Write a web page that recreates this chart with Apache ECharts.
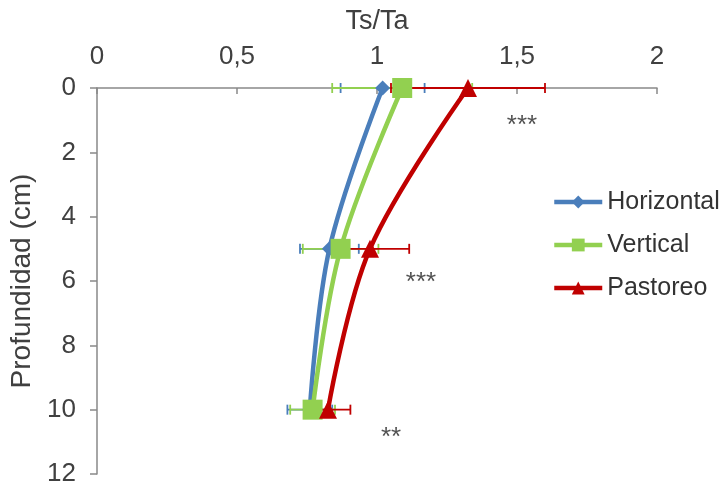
<!DOCTYPE html>
<html><head><meta charset="utf-8">
<script src="https://cdn.jsdelivr.net/npm/echarts@6/dist/echarts.min.js"></script>
<style>html,body{margin:0;padding:0;background:#fff}#c{width:727px;height:487px}</style>
</head><body><div id="c"></div>
<script>
var depths = [0, 5, 10];
var horizontal = [1.02, 0.83, 0.76];
var vertical = [1.09, 0.87, 0.77];
var pastoreo = [1.325, 0.975, 0.825];
var errHorizontal = [0.15, 0.105, 0.08];
var errVertical = [0.25, 0.135, 0.08];
var errPastoreo = [0.275, 0.14, 0.08];
var xTicks = ['0', '0,5', '1', '1,5', '2'];
var sigLabels = ['***', '***', '**'];
var sigPos = [[1.518, 1.18], [1.157, 6.05], [1.05, 10.88]];

var colors = {Horizontal: '#4a7ebb', Vertical: '#92d050', Pastoreo: '#c00000'};
function pts(vals) { return vals.map(function (v, i) { return [v, depths[i]]; }); }
function errData(vals, errs) { return vals.map(function (v, i) { return [v - errs[i], v + errs[i], depths[i]]; }); }
function errSeries(name, vals, errs) {
  return {
    type: 'custom', name: name + ' err', silent: true, z: 1,
    data: errData(vals, errs),
    encode: {x: [0, 1], y: 2},
    renderItem: function (params, api) {
      var a = api.coord([api.value(0), api.value(2)]);
      var b = api.coord([api.value(1), api.value(2)]);
      var st = {stroke: colors[name], lineWidth: 1.8};
      return {type: 'group', children: [
        {type: 'line', shape: {x1: a[0], y1: a[1], x2: b[0], y2: b[1]}, style: st},
        {type: 'line', shape: {x1: a[0], y1: a[1] - 5, x2: a[0], y2: a[1] + 5}, style: st},
        {type: 'line', shape: {x1: b[0], y1: b[1] - 5, x2: b[0], y2: b[1] + 5}, style: st}
      ]};
    }
  };
}
function lineSeries(name, vals, symbol, size) {
  return {
    type: 'line', name: name, data: pts(vals), smooth: 0.35, z: 3,
    symbol: symbol, symbolSize: size,
    lineStyle: {color: colors[name], width: 4.5},
    itemStyle: {color: colors[name]}
  };
}
var chart = echarts.init(document.getElementById('c'));
chart.setOption({
  animation: false,
  textStyle: {fontFamily: 'Liberation Sans, Arial, sans-serif'},
  grid: {left: 97, right: 70, top: 88, bottom: 12, containLabel: false},
  xAxis: {
    type: 'value', position: 'top', min: 0, max: 2, interval: 0.5,
    name: 'Ts/Ta', nameLocation: 'middle', nameGap: 53,
    nameTextStyle: {fontSize: 27, color: '#404040'},
    axisLine: {show: true, lineStyle: {color: '#898989', width: 1.5}},
    axisTick: {show: true, inside: true, length: 6, lineStyle: {color: '#898989', width: 1.5}},
    axisLabel: {fontSize: 26, color: '#404040', margin: 18,
      formatter: function (v) { return xTicks[Math.round(v / 0.5)]; }},
    splitLine: {show: false}
  },
  yAxis: {
    type: 'value', inverse: true, min: 0, max: 12, interval: 2,
    name: 'Profundidad (cm)', nameLocation: 'middle', nameGap: 58,
    nameTextStyle: {fontSize: 28, color: '#404040'},
    axisLine: {show: true, lineStyle: {color: '#898989', width: 1.5}},
    axisTick: {show: true, length: 7, lineStyle: {color: '#898989', width: 1.5}},
    axisLabel: {fontSize: 26, color: '#404040', margin: 21},
    splitLine: {show: false}
  },
  legend: {
    orient: 'vertical', left: 552, top: 188, itemGap: 15, padding: 0,
    itemWidth: 48, itemHeight: 16,
    lineStyle: {width: 4.5},
    textStyle: {fontSize: 25, color: '#333333', lineHeight: 28},
    data: ['Horizontal', 'Vertical', 'Pastoreo']
  },
  series: [
    errSeries('Horizontal', horizontal, errHorizontal),
    errSeries('Vertical', vertical, errVertical),
    errSeries('Pastoreo', pastoreo, errPastoreo),
    lineSeries('Horizontal', horizontal, 'diamond', 15),
    lineSeries('Vertical', vertical, 'rect', 20),
    lineSeries('Pastoreo', pastoreo, 'triangle', 18),
    {
      type: 'scatter', name: 'sig', silent: true, symbolSize: 0, z: 4,
      data: sigPos.map(function (p, i) { return {value: p, label: {formatter: sigLabels[i]}}; }),
      label: {show: true, position: 'inside', fontSize: 26, color: '#262626'}
    }
  ]
});
</script></body></html>
